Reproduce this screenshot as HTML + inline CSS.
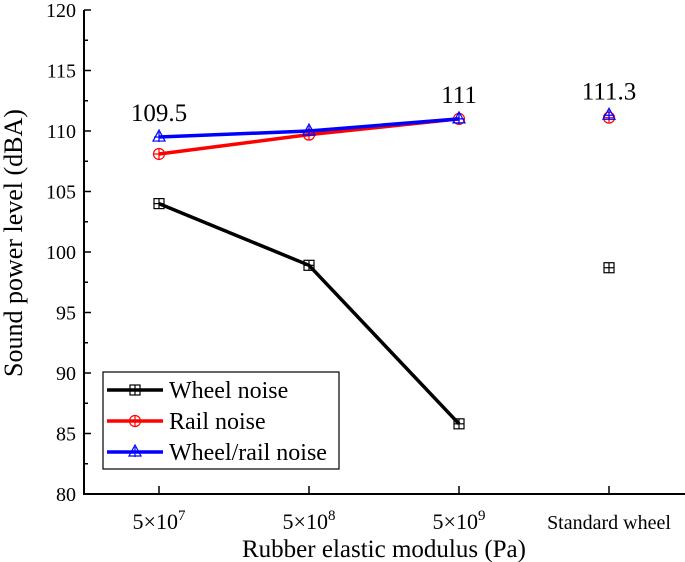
<!DOCTYPE html>
<html><head><meta charset="utf-8"><style>
body{margin:0;background:#fff}
svg{display:block;font-family:"Liberation Serif",serif}
</style></head><body>
<svg id="c" width="685" height="562"></svg>
<script>
const categories=["5×10^7","5×10^8","5×10^9","Standard wheel"];
const wheel=[104,98.9,85.8,98.7];
const rail=[108.1,109.7,111,111.1];
const wheelRail=[109.5,110,111,111.3];
const yTicks=[80,85,90,95,100,105,110,115,120];
const annotations=[[0,"109.5"],[2,"111"],[3,"111.3"]];
const NS="http://www.w3.org/2000/svg";
const svg=document.getElementById('c');
function xs(i){return 159+i*150;}
function ys(v){return 494-(v-80)*(484/40);}
function mk(t,a,p){const e=document.createElementNS(NS,t);for(const k in a)e.setAttribute(k,a[k]);(p||svg).appendChild(e);return e;}
let ax=mk('line',{x1:84,y1:10,x2:84,y2:495,stroke:'#000','stroke-width':2});


let bx=mk('line',{x1:83,y1:494,x2:685,y2:494,stroke:'#000','stroke-width':2});


yTicks.forEach((v,i)=>{
  mk('line',{x1:84,y1:ys(v),x2:91,y2:ys(v),stroke:'#000','stroke-width':1.5});
  if(i<yTicks.length-1)mk('line',{x1:84,y1:ys(v+2.5),x2:88,y2:ys(v+2.5),stroke:'#000','stroke-width':1.5});
  const t=mk('text',{x:76,y:ys(v)+7,'text-anchor':'end','font-size':20});
  t.textContent=v;
  
  
});
categories.forEach((c,i)=>{
  mk('line',{x1:xs(i),y1:494,x2:xs(i),y2:486,stroke:'#000','stroke-width':1.5});
  const t=mk('text',{x:xs(i),y:529,'text-anchor':'middle','font-size':i==3?20:22});
  
  
  if(c.includes('^')){const [b,e]=c.split('^');t.textContent=b;const s=mk('tspan',{dy:-9,'font-size':15},t);s.textContent=e;}
  else t.textContent=c;
});
let yt=mk('text',{transform:'translate(22,243) rotate(-90)','text-anchor':'middle','font-size':26});
yt.textContent='Sound power level (dBA)';


let xt=mk('text',{x:384,y:557,'text-anchor':'middle','font-size':25});
xt.textContent='Rubber elastic modulus (Pa)';


function marker(type,x,y,col,g){
  if(type=='sq'){mk('rect',{x:x-5,y:y-5,width:10,height:10,fill:'none',stroke:col,'stroke-width':1.2},g);}
  else if(type=='ci'){mk('circle',{cx:x,cy:y,r:5.5,fill:'none',stroke:col,'stroke-width':1.2},g);}
  else{mk('polygon',{points:`${x},${y-7} ${x-6},${y+4} ${x+6},${y+4}`,fill:'none',stroke:col,'stroke-width':1.2},g);}
  mk('line',{x1:x-5,y1:y,x2:x+5,y2:y,stroke:col,'stroke-width':1.2},g);
  mk('line',{x1:x,y1:y-5,x2:x,y2:y+5,stroke:col,'stroke-width':1.2},g);
}
function series(vals,col,type,name){
  const g=mk('g',{});
  
  
  const pts=vals.slice(0,3).map((v,i)=>xs(i)+','+ys(v)).join(' ');
  mk('polyline',{points:pts,fill:'none',stroke:col,'stroke-width':3.5},g);
  vals.forEach((v,i)=>marker(type,xs(i),ys(v),col,g));
}
series(wheel,'#000','sq','wheel-noise-series');
series(rail,'#f00','ci','rail-noise-series');
series(wheelRail,'#00f','tr','wheel-rail-noise-series');
annotations.forEach(([i,s])=>{
  const t=mk('text',{x:xs(i),y:ys(wheelRail[i])-16,'text-anchor':'middle','font-size':25});
  t.textContent=s;
  
  
});
const lg=mk('g',{});


mk('rect',{x:103,y:372,width:236,height:97,fill:'#fff',stroke:'#000','stroke-width':1.2},lg);
[['Wheel noise','#000','sq'],['Rail noise','#f00','ci'],['Wheel/rail noise','#00f','tr']].forEach((e,i)=>{
  const y=390+i*31;
  const g=mk('g',{},lg);
  
  
  mk('line',{x1:107,y1:y,x2:163,y2:y,stroke:e[1],'stroke-width':3.5},g);
  marker(e[2],135,y,e[1],g);
  const t=mk('text',{x:169,y:y+8,'font-size':24},g);t.textContent=e[0];
});
</script>
</body></html>
